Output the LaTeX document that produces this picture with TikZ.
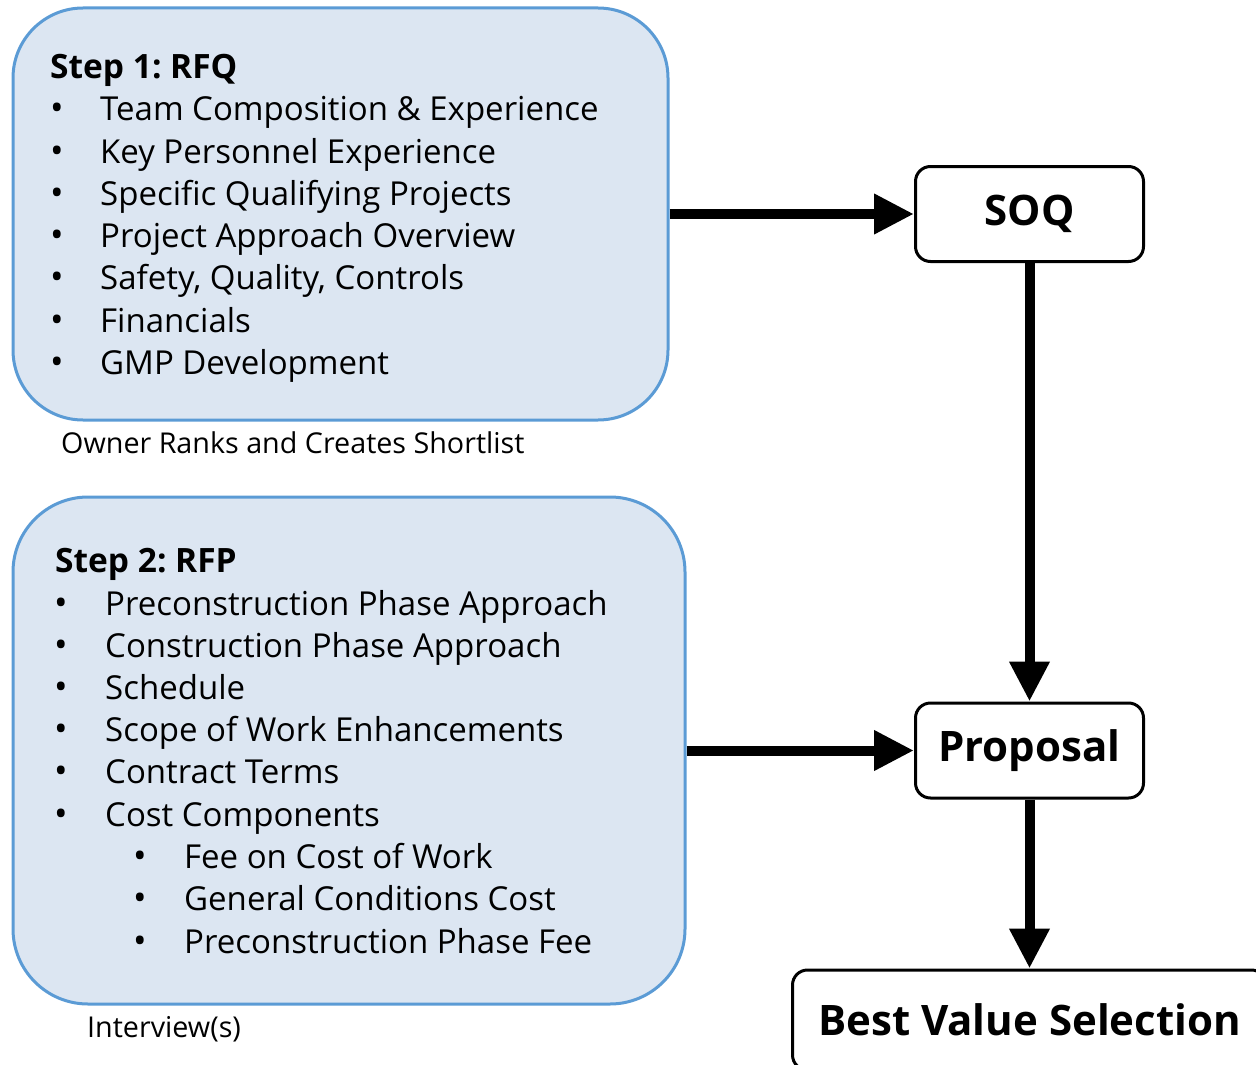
\documentclass[tikz,border=0pt]{standalone}
\usepackage{fontspec}
\setmainfont{Open Sans}
\usetikzlibrary{arrows.meta}
\definecolor{boxfill}{HTML}{DCE6F2}
\definecolor{boxline}{HTML}{5B9BD5}
\begin{document}
\begin{tikzpicture}[x=1pt,y=-1pt,
  stepbox/.style={draw=boxline, fill=boxfill, line width=3pt, rounded corners=70pt, inner sep=0pt},
  outbox/.style={draw=black, fill=white, line width=3pt, rounded corners=15pt, inner sep=0pt,
    font=\fontsize{42}{50}\selectfont\bfseries},
  flow/.style={line width=10pt, -{Triangle[length=40pt,width=38pt]}},
  item/.style={anchor=base west, inner sep=0pt, font=\fontsize{33}{40}\selectfont},
  bul/.style={anchor=base, inner sep=0pt, font=\fontsize{36}{40}\selectfont},
  ttl/.style={anchor=base west, inner sep=0pt, font=\fontsize{33.5}{40}\selectfont\bfseries},
  note/.style={anchor=base west, inner sep=0pt, font=\fontsize{28.7}{34}\selectfont}]
\path[use as bounding box] (0,0) rectangle (1256,1065);
\clip (0,0) rectangle (1256,1065);

% left boxes
\node[stepbox, minimum width=655pt, minimum height=412pt] (rfq) at (340.5,214) {};
\node[stepbox, minimum width=672pt, minimum height=507pt, rounded corners=75pt] (rfp) at (349,750.5) {};

% right boxes
\node[outbox, minimum width=228pt, minimum height=95pt] (soq) at (1029.5,214) {SOQ};
\node[outbox, minimum width=228pt, minimum height=95pt] (prop) at (1029.5,750.5) {Proposal};
\node[outbox, minimum width=474pt, minimum height=100pt] (best) at (1029.5,1020) {Best Value Selection};

% step 1 text
\node[ttl] (t1) at (50,79) {Step 1:\kern-3pt{} RFQ};
\foreach \txt [count=\i] in {Team Composition \& Experience, Key Personnel Experience,
  Specific Qualifying Projects, Project Approach Overview, {Safety, Quality, Controls},
  Financials, GMP Development}{
  \node[bul] (ba\i) at (57,{121+(\i-1)*42.2}) {•};
  \node[item] (ia\i) at (100,{121+(\i-1)*42.2}) {\txt};
}
\node[note] (n1) at (61,453) {Owner Ranks and Creates Shortlist};

% step 2 text
\node[ttl] (t2) at (55,572) {Step 2:\kern-3pt{} RFP};
\foreach \txt [count=\i] in {Preconstruction Phase Approach, Construction Phase Approach,
  Schedule, Scope of Work Enhancements, Contract Terms, Cost Components}{
  \node[bul] (bb\i) at (61,{615+(\i-1)*42.2}) {•};
  \node[item] (ib\i) at (105,{615+(\i-1)*42.2}) {\txt};
}
\foreach \txt [count=\i] in {Fee on Cost of Work, General Conditions Cost, Preconstruction Phase Fee}{
  \node[bul] (bc\i) at (140,{868+(\i-1)*42.5}) {•};
  \node[item] (ic\i) at (184,{868+(\i-1)*42.5}) {\txt};
}
\node[note] (n2) at (87,1037) {Interview(s)};

% connectors
\draw[flow] (rfq.east) -- (soq.west);
\draw[flow] (soq.south) -- (prop.north);
\draw[flow] (rfp.east) -- (prop.west);
\draw[flow] (prop.south) -- (best.north);
\end{tikzpicture}
\end{document}
